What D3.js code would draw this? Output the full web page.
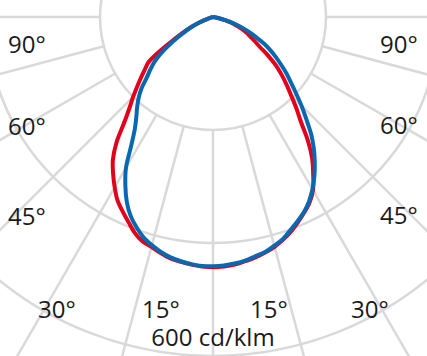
<!DOCTYPE html>
<html><head><meta charset="utf-8">
<script src="https://cdn.jsdelivr.net/npm/d3@7"></script>
<style>html,body{margin:0;padding:0;background:#fff;}svg{display:block;}</style>
</head><body>
<svg id="chart" width="427" height="356"></svg>
<script>
// gamma angles (degrees from nadir)
const angles = [0,2.5,5,7.5,10,12.5,15,17.5,20,22.5,25,27.5,30,32.5,35,37.5,40,42.5,45,47.5,50,52.5,55,57.5,60,62.5,65,67.5,70,72.5,75,77.5,80,82.5,85,87.5,90];
// intensities in cd/klm
const redLeft   = [443,442,440,437,434,428,421,416,406,392,379,366,348,329,309,281,245,219,200,182,166,152,139,110,80,60,44,28,16,9,4,0,0,0,0,0,0];
const redRight  = [443,442,440,436,432,427,421,413,404,393,382,370,354,330,306,276,242,218,195,176,158,140,119,98,85,74,65,55,44,34,23,12,5,0,0,0,0];
const blueLeft  = [441,441,439,436,432,426,418,409,396,381,361,336,308,269,241,223,209,195,179,159,145,131,113,92,71,55,42,28,16,9,4,0,0,0,0,0,0];
const blueRight = [441,440,438,435,430,426,419,412,401,391,381,368,352,334,314,293,270,244,221,199,180,164,147,132,117,101,84,69,55,41,27,14,5,0,0,0,0];
const gridRings = [200,400,600];
const gridAngles = [-90,-75,-60,-45,-30,-15,0,15,30,45,60,75,90];
const angleLabels = ["90°","60°","45°","30°","15°"];
const unitLabel = "600 cd/klm";

const svg = d3.select("#chart");
const cx = 213, cy = 17;
const r = d3.scaleLinear().domain([0,600]).range([0,339]);
const g = svg.append("g").attr("transform",`translate(${cx},${cy})`);
const gridColor = "#d9d9d9";
const toRad = d => d*Math.PI/180;

// rings
g.selectAll("circle.ring").data(gridRings.slice(1)).join("circle")
  .attr("r", d=>r(d)).attr("fill","none").attr("stroke",gridColor).attr("stroke-width",2.5);
// radial lines (angle from nadir, left negative)
g.selectAll("line.spoke").data(gridAngles).join("line")
  .attr("x1", d=>r(gridRings[0])*Math.sin(toRad(d)))
  .attr("y1", d=>r(gridRings[0])*Math.cos(toRad(d)))
  .attr("x2", d=>700*Math.sin(toRad(d)))
  .attr("y2", d=>700*Math.cos(toRad(d)))
  .attr("stroke",gridColor).attr("stroke-width",2.5);
// hub
g.append("circle").attr("r", r(gridRings[0])).attr("fill","#fff").attr("stroke",gridColor).attr("stroke-width",2.5);

function buildPts(left, right){
  const pts = [];
  for(let i=angles.length-1;i>=0;i--) pts.push({a: Math.PI + toRad(angles[i]), v: left[i]});
  for(let i=1;i<angles.length;i++) pts.push({a: Math.PI - toRad(angles[i]), v: right[i]});
  return pts;
}
const line = d3.lineRadial().angle(d=>d.a).radius(d=>r(d.v)).curve(d3.curveCatmullRom.alpha(0.5));
g.append("path").attr("d", line(buildPts(redLeft, redRight)))
  .attr("fill","none").attr("stroke","#e2001a").attr("stroke-width",4).attr("stroke-linejoin","round");
g.append("path").attr("d", line(buildPts(blueLeft, blueRight)))
  .attr("fill","none").attr("stroke","#0a68b0").attr("stroke-width",4).attr("stroke-linejoin","round");

// labels
const font = "'Open Sans', sans-serif";
const labelPos = {"90°":[{x:8,y:53},{x:380,y:53}], "60°":[{x:8,y:135},{x:380,y:134}],
  "45°":[{x:8,y:225},{x:380,y:224}], "30°":[{x:38,y:318},{x:351,y:318}], "15°":[{x:142,y:318},{x:250,y:318}]};
angleLabels.forEach(t=>{
  labelPos[t].forEach(p=>{
    svg.append("text").attr("x",p.x).attr("y",p.y).text(t)
      .attr("font-family",font).attr("font-size",24).attr("fill","#1a1a1a");
  });
});
svg.append("text").attr("x",213).attr("y",346).attr("text-anchor","middle").text(unitLabel)
  .attr("font-family",font).attr("font-size",24).attr("fill","#1a1a1a");
</script>
</body></html>
